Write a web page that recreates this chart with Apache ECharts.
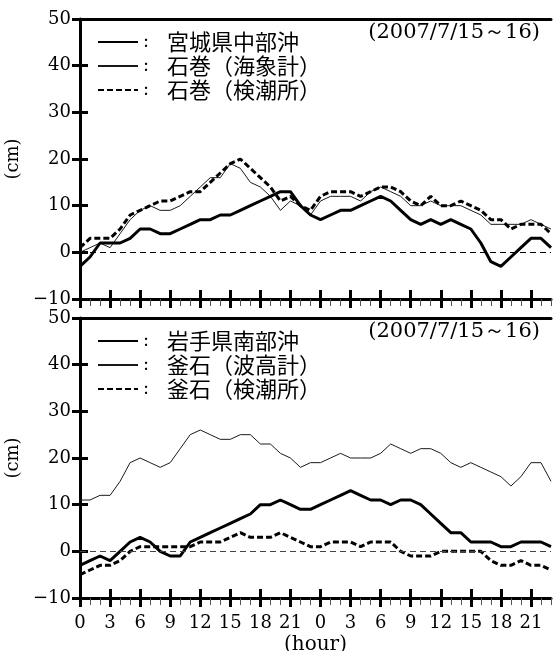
<!DOCTYPE html>
<html>
<head>
<meta charset="utf-8">
<script src="https://cdn.jsdelivr.net/npm/echarts@6/dist/echarts.min.js"></script>
<style>
  html, body { margin: 0; padding: 0; background: #fff; }
  #chart { width: 553px; height: 651px; }
</style>
</head>
<body>
<div id="chart"></div>
<script>
// Hour-of-day labels for the two days (15th and 16th July 2007)
const hourLabels = [
  '0','1','2','3','4','5','6','7','8','9','10','11',
  '12','13','14','15','16','17','18','19','20','21','22','23',
  '0','1','2','3','4','5','6','7','8','9','10','11',
  '12','13','14','15','16','17','18','19','20','21','22','23'
];
const yTicks = { min: -10, max: 50, step: 10 };
const periodText = '(2007/7/15～16)';

// Upper panel (cm)
const namesUpper = ['宮城県中部沖', '石巻（海象計）', '石巻（検潮所）'];
const miyagiOffshore = [
  -3,-1,2,2,2,3,5,5,4,4, 5,6,7,7,8,8,9,10,11,12,
  13,13,10,8,7,8,9,9,10,11, 12,11,9,7,6,7,6,7,6,5,
  2,-2,-3,-1,1,3,3,1
];
const ishinomakiWave = [
  0,1,2,1,4,7,9,10,9,9, 10,12,14,16,16,19,18,15,14,12,
  9,11,10,8,11,12,12,12,11,13, 14,13,12,10,10,11,10,10,10,9,
  8,6,6,6,6,7,6,5
];
const ishinomakiTide = [
  1,3,3,3,5,8,9,10,11,11, 12,13,13,15,17,19,20,18,16,14,
  11,12,10,9,12,13,13,13,12,13, 14,14,13,11,10,12,10,10,11,10,
  9,7,7,5,6,6,6,4
];

// Lower panel (cm)
const namesLower = ['岩手県南部沖', '釜石（波高計）', '釜石（検潮所）'];
const iwateOffshore = [
  -3,-2,-1,-2,0,2,3,2,0,-1, -1,2,3,4,5,6,7,8,10,10,
  11,10,9,9,10,11,12,13,12,11, 11,10,11,11,10,8,6,4,4,2,
  2,2,1,1,2,2,2,1
];
const kamaishiWave = [
  11,11,12,12,15,19,20,19,18,19, 22,25,26,25,24,24,25,25,23,23,
  21,20,18,19,19,20,21,20,20,20, 21,23,22,21,22,22,21,19,18,19,
  18,17,16,14,16,19,19,15
];
const kamaishiTide = [
  -5,-4,-3,-3,-2,0,1,1,1,1, 1,1,2,2,2,3,4,3,3,3,
  4,3,2,1,1,2,2,2,1,2, 2,2,0,-1,-1,-1,0,0,0,0,
  0,-2,-3,-3,-2,-3,-3,-4
];

const SERIF = 'DejaVu Serif, Liberation Serif, serif';
const CJK = 'Noto Sans CJK JP, sans-serif';
const INK = '#000';

const panels = [
  { top: 19, names: namesUpper, data: [miyagiOffshore, ishinomakiWave, ishinomakiTide], zeroColor: '#000', lastAxis: false },
  { top: 318, names: namesLower, data: [iwateOffshore, kamaishiWave, kamaishiTide], zeroColor: '#444', lastAxis: true }
];

const styles = [
  { width: 3, type: 'solid', color: INK },
  { width: 1, type: 'solid', color: '#1a1a1a' },
  { width: 3, type: [6, 3], color: INK }
];

const grid = [], xAxis = [], yAxis = [], series = [], legend = [], title = [];

panels.forEach((p, g) => {
  grid.push({ left: 80, right: 2, top: p.top, height: 280, containLabel: false, outerBoundsMode: 'none' });

  // bottom axis line with hourly minor ticks below it
  xAxis.push({
    gridIndex: g, type: 'category', data: hourLabels, boundaryGap: false, position: 'bottom', offset: 0,
    axisLine: { show: true, onZero: false, lineStyle: { color: INK, width: 3 } },
    axisTick: { show: true, interval: 0, length: 7, lineStyle: { color: '#555', width: 1 } },
    axisLabel: { show: false }, splitLine: { show: false }
  });
  // 3-hourly major ticks (outside) with labels
  xAxis.push({
    gridIndex: g, type: 'category', data: hourLabels, boundaryGap: false, position: 'bottom', offset: 0,
    axisLine: { show: false, onZero: false },
    axisTick: { show: true, interval: 2, length: 9, lineStyle: { color: INK, width: 3 } },
    axisLabel: {
      show: p.lastAxis, interval: 2, margin: 16,
      fontFamily: SERIF, fontSize: 18, color: INK
    },
    name: p.lastAxis ? '(hour)' : '', nameLocation: 'middle', nameGap: 37,
    nameTextStyle: { fontFamily: SERIF, fontSize: 20, color: INK },
    splitLine: { show: false }
  });
  // 3-hourly major ticks (inside)
  xAxis.push({
    gridIndex: g, type: 'category', data: hourLabels, boundaryGap: false, position: 'bottom', offset: 0,
    axisLine: { show: false, onZero: false },
    axisTick: { show: true, inside: true, interval: 2, length: 9, lineStyle: { color: INK, width: 3 } },
    axisLabel: { show: false }, splitLine: { show: false }
  });
  // top frame line
  xAxis.push({
    gridIndex: g, type: 'category', data: hourLabels, boundaryGap: false, position: 'top', offset: 0,
    axisLine: { show: true, onZero: false, lineStyle: { color: INK, width: 3 } },
    axisTick: { show: false }, axisLabel: { show: false }, splitLine: { show: false }
  });

  // value axis with outside ticks and labels
  yAxis.push({
    gridIndex: g, type: 'value', position: 'left', offset: 0,
    min: yTicks.min, max: yTicks.max, interval: yTicks.step,
    axisLine: { show: true, onZero: false, lineStyle: { color: INK, width: 3 } },
    axisTick: { show: true, length: 8, lineStyle: { color: INK, width: 3 } },
    axisLabel: {
      margin: 9, fontFamily: SERIF, fontSize: 18, color: INK,
      formatter: v => String(v).replace('-', '−')
    },
    splitLine: { show: false },
    name: '(cm)', nameLocation: 'middle', nameGap: 56,
    nameTextStyle: { fontFamily: SERIF, fontSize: 18, color: INK }
  });
  // same scale, inside ticks
  yAxis.push({
    gridIndex: g, type: 'value', position: 'left', offset: 0,
    min: yTicks.min, max: yTicks.max, interval: yTicks.step,
    axisLine: { show: false, onZero: false },
    axisTick: { show: true, inside: true, length: 8, lineStyle: { color: INK, width: 3 } },
    axisLabel: { show: false }, splitLine: { show: false }
  });

  p.data.forEach((d, i) => {
    const s = {
      type: 'line', name: p.names[i], data: d,
      xAxisIndex: 4 * g, yAxisIndex: 2 * g,
      symbol: 'none', smooth: false, color: INK,
      lineStyle: styles[i], z: 3 + (i === 1 ? 0 : 1)
    };
    if (i === 0) {
      // zero reference line
      s.markLine = {
        silent: true, symbol: 'none', label: { show: false },
        lineStyle: { color: p.zeroColor, width: 1, type: [6, 4] },
        data: [{ yAxis: 0 }]
      };
    }
    series.push(s);
  });

  legend.push({
    data: p.names, left: 97, top: p.top + 11, orient: 'vertical',
    itemWidth: 40, itemHeight: 14, itemGap: 0, padding: 0,
    selectedMode: false,
    itemStyle: { color: 'rgba(0,0,0,0)', borderWidth: 0, opacity: 0 },
    formatter: n => '{c|:}' + n,
    textStyle: {
      fontFamily: CJK, fontSize: 22, lineHeight: 24, color: INK,
      rich: { c: { width: 24, fontFamily: SERIF, fontSize: 18, color: INK } }
    }
  });

  title.push({
    text: periodText, right: 13, top: p.top + 3, padding: 0,
    textStyle: { fontFamily: SERIF, fontSize: 21, fontWeight: 'normal', color: INK }
  });
});

const chart = echarts.init(document.getElementById('chart'), null, { renderer: 'canvas' });
chart.setOption({
  animation: false,
  backgroundColor: '#fff',
  title, grid, xAxis, yAxis, legend, series
});
</script>
</body>
</html>
